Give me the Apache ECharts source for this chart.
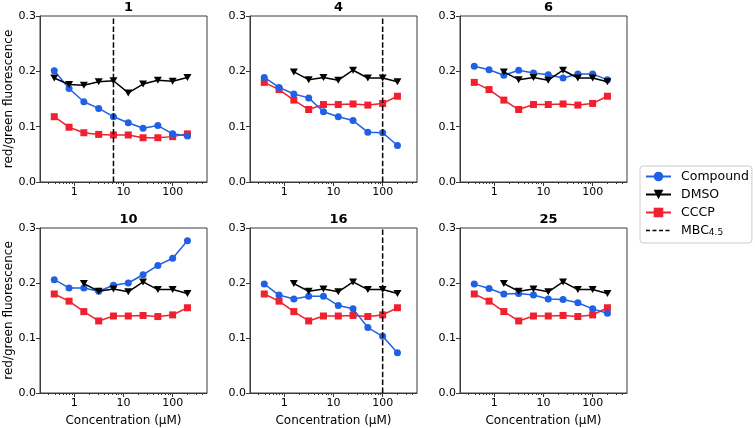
<!DOCTYPE html>
<html><head><meta charset="utf-8">
<script src="https://cdn.jsdelivr.net/npm/echarts@6/dist/echarts.min.js"></script>
<style>html,body{margin:0;padding:0;background:#fff}#c{width:755px;height:428px}</style>
</head><body><div id="c"></div>
<script>
// ---- data ----
const panelTitles = ['1', '4', '6', '10', '16', '25'];
const conc = [0.39, 0.78, 1.56, 3.125, 6.25, 12.5, 25, 50, 100, 200];
const dmsoConc1 = [0.39, 0.78, 1.56, 3.125, 6.25, 12.5, 25, 50, 100, 200];
const dmsoConc = [1.56, 3.125, 6.25, 12.5, 25, 50, 100, 200];
const compound1 = [0.201, 0.169, 0.145, 0.133, 0.118, 0.107, 0.097, 0.102, 0.087, 0.083];
const compound4 = [0.189, 0.171, 0.159, 0.152, 0.127, 0.118, 0.111, 0.090, 0.089, 0.066];
const compound6 = [0.209, 0.203, 0.193, 0.202, 0.197, 0.194, 0.188, 0.195, 0.195, 0.185];
const compound10 = [0.206, 0.191, 0.191, 0.185, 0.196, 0.200, 0.215, 0.232, 0.245, 0.277];
const compound16 = [0.198, 0.178, 0.171, 0.176, 0.176, 0.159, 0.153, 0.119, 0.103, 0.073];
const compound25 = [0.198, 0.190, 0.180, 0.181, 0.178, 0.171, 0.170, 0.164, 0.153, 0.145];
const dmso1 = [0.188, 0.176, 0.175, 0.181, 0.183, 0.161, 0.177, 0.184, 0.182, 0.189];
const dmsoOther = [0.199, 0.185, 0.189, 0.184, 0.202, 0.188, 0.188, 0.181];
const cccp1 = [0.118, 0.099, 0.089, 0.086, 0.085, 0.085, 0.080, 0.080, 0.082, 0.087];
const cccpOther = [0.180, 0.167, 0.148, 0.131, 0.140, 0.140, 0.141, 0.139, 0.142, 0.155];
const mbc = [6.25, 100, null, null, 100, null]; // MBC4.5 per panel (µM)
const yTicks = [0, 0.1, 0.2, 0.3];
const xMajor = [1, 10, 100];
const xMinor = [0.3,0.4,0.5,0.6,0.7,0.8,0.9,2,3,4,5,6,7,8,9,20,30,40,50,60,70,80,90,200,300,400];

const compounds = [compound1, compound4, compound6, compound10, compound16, compound25];
const dmsoX = [dmsoConc1, dmsoConc, dmsoConc, dmsoConc, dmsoConc, dmsoConc];
const dmsoY = [dmso1, dmsoOther, dmsoOther, dmsoOther, dmsoOther, dmsoOther];
const cccps = [cccp1, cccpOther, cccpOther, cccpOther, cccpOther, cccpOther];

// ---- layout ----
const FONT = 'DejaVu Sans';
const colLeft = [40, 250, 460];
const rowTop = [16, 228];
const W = 167, H = 166;
const BLUE = '#1f60e4', RED = '#f0202e', BLACK = '#000';
const spine = '#3a3a3a';
const tri = 'path://M0,0 L10,0 L5,9 Z';

const pair = (xs, ys) => xs.map((x, i) => [x, ys[i]]);

const grids = [], xAxes = [], yAxes = [], series = [], titles = [];
for (let p = 0; p < 6; p++) {
  const r = Math.floor(p / 3), c = p % 3;
  grids.push({left: colLeft[c], top: rowTop[r], width: W, height: H, show: true,
    borderColor: spine, borderWidth: 1, backgroundColor: 'transparent', containLabel: false});
  titles.push({text: panelTitles[p], left: colLeft[c] + W / 2, top: rowTop[r] - 20, textAlign: 'center',
    textStyle: {fontFamily: FONT, fontSize: 13, fontWeight: 'bold', color: '#000'}});
  xAxes.push({type: 'log', gridIndex: p, min: 0.2, max: 500, logBase: 10, position: 'bottom',
    name: r === 1 ? 'Concentration (µM)' : '', nameLocation: 'middle', nameGap: 22,
    nameTextStyle: {fontFamily: FONT, fontSize: 12, color: '#000'},
    axisLine: {show: true, lineStyle: {color: spine, width: 1}},
    axisTick: {show: true, inside: false, length: 4, customValues: xMajor, lineStyle: {color: spine}},
    axisLabel: {show: true, customValues: xMajor, margin: 5, fontFamily: FONT, fontSize: 11, color: '#000',
      formatter: v => String(Math.round(v))},
    splitLine: {show: false}, minorTick: {show: false}});
  xAxes.push({type: 'log', gridIndex: p, min: 0.2, max: 500, logBase: 10, position: 'bottom',
    axisLine: {show: false},
    axisTick: {show: true, inside: false, length: 2, customValues: xMinor, lineStyle: {color: spine}},
    axisLabel: {show: false}, splitLine: {show: false}});
  yAxes.push({type: 'value', gridIndex: p, min: 0, max: 0.3, interval: 0.1,
    name: c === 0 ? 'red/green fluorescence' : '', nameLocation: 'middle', nameGap: 24,
    nameTextStyle: {fontFamily: FONT, fontSize: 12, color: '#000'},
    axisLine: {show: true, lineStyle: {color: spine, width: 1}},
    axisTick: {show: true, inside: false, length: 4, lineStyle: {color: spine}},
    axisLabel: {fontFamily: FONT, fontSize: 11, color: '#000', margin: 4, formatter: v => v.toFixed(1)},
    splitLine: {show: false}});
  const xi = p * 2;
  series.push({name: 'Compound', type: 'line', xAxisIndex: xi, yAxisIndex: p, data: pair(conc, compounds[p]),
    symbol: 'circle', symbolSize: 7, itemStyle: {color: BLUE}, lineStyle: {color: BLUE, width: 1.5}, z: 3});
  series.push({name: 'DMSO', type: 'line', xAxisIndex: xi, yAxisIndex: p, data: pair(dmsoX[p], dmsoY[p]),
    symbol: tri, symbolSize: [8, 7], itemStyle: {color: BLACK}, lineStyle: {color: BLACK, width: 1.5}, z: 4});
  series.push({name: 'CCCP', type: 'line', xAxisIndex: xi, yAxisIndex: p, data: pair(conc, cccps[p]),
    symbol: 'rect', symbolSize: 7, itemStyle: {color: RED}, lineStyle: {color: RED, width: 1.5}, z: 2});
  if (mbc[p] !== null) {
    series.push({name: 'MBC4.5', type: 'line', xAxisIndex: xi, yAxisIndex: p,
      data: [[mbc[p], 0], [mbc[p], 0.3]], symbol: 'none', showSymbol: false,
      lineStyle: {color: '#000', width: 1.5, type: [5.5, 2.4]}, itemStyle: {color: '#000'}, z: 5, silent: true});
  }
}

const chart = echarts.init(document.getElementById('c'), null, {renderer: 'canvas'});
chart.setOption({
  animation: false,
  backgroundColor: '#fff',
  title: titles,
  grid: grids, xAxis: xAxes, yAxis: yAxes, series: series,
  legend: {data: ['Compound', 'DMSO', 'CCCP', {name: 'MBC4.5', itemStyle: {opacity: 0},
      lineStyle: {color: '#000', width: 1.5, type: [4, 2.5]}}],
    orient: 'vertical', left: 640, top: 166,
    itemWidth: 25, itemHeight: 12, itemGap: 5, padding: [4, 3, 6, 5],
    borderColor: '#ccc', borderWidth: 1, borderRadius: 3, backgroundColor: '#fff',
    textStyle: {fontFamily: FONT, fontSize: 12.5, lineHeight: 13, color: '#000', padding: [0, 0, 0, 5],
      rich: {b: {fontFamily: FONT, fontSize: 12.5, color: '#000'}, s: {fontFamily: FONT, fontSize: 9, color: '#000', verticalAlign: 'bottom', padding: [6, 0, 0, 0]}}},
    formatter: n => n === 'MBC4.5' ? '{b|MBC}{s|4.5}' : n}
});
</script></body></html>
